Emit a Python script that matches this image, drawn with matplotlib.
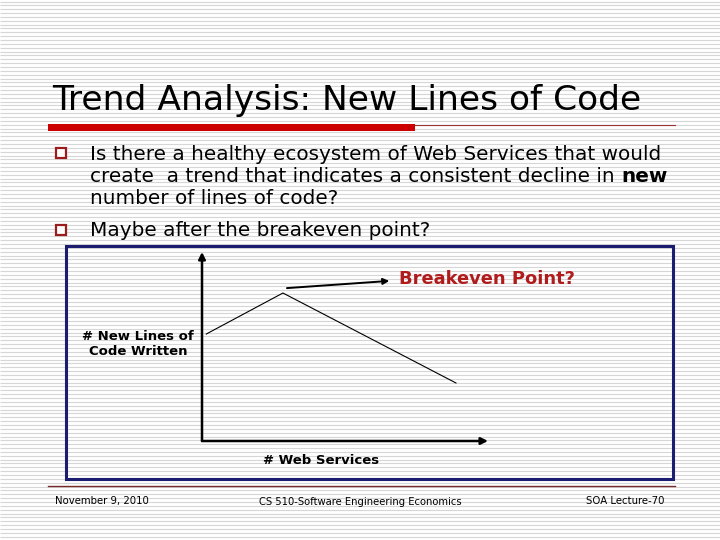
import numpy as np
import matplotlib
matplotlib.use("Agg")
import matplotlib.pyplot as plt
from matplotlib.patches import Rectangle

# trend sketch: new lines of code vs number of web services (arbitrary units)
web_services = [1.5, 28.3, 88.8]
new_loc = [56.6, 78.3, 30.7]

title = "Trend Analysis: New Lines of Code"
bullets = [
    ["Is there a healthy ecosystem of Web Services that would",
     "create  a trend that indicates a consistent decline in ",
     "number of lines of code?"],
    ["Maybe after the breakeven point?"],
]
footer = ["November 9, 2010", "CS 510-Software Engineering Economics", "SOA Lecture-70"]

W, H = 720, 540
fig = plt.figure(figsize=(7.2, 5.4), dpi=100)
fig.patch.set_facecolor("white")

# slide background in pixel coordinates
bg = fig.add_axes([0, 0, 1, 1])
bg.set_xlim(0, W)
bg.set_ylim(H, 0)
bg.axis("off")
bg.hlines(np.arange(1.5, H, 3.85), 0, W, color="#d6d6d6", lw=0.8, zorder=0)

bg.text(52, 110, title, fontsize=24.8, family="DejaVu Sans", va="baseline", ha="left")
bg.add_patch(Rectangle((48, 124), 367, 7, color="#cc0000", lw=0, zorder=3))
bg.plot([415, 675], [124.5, 124.5], color="#993333", lw=0.8, zorder=3)

# bullets
ys = [154, 231]
for y0, lines in zip(ys, bullets):
    bg.add_patch(Rectangle((56, y0 - 6), 10, 10, facecolor="white", ec="#9b1c1c",
                           lw=1.6, zorder=3))
    for i, ln in enumerate(lines):
        t = bg.text(90, y0 + i * 22, ln, fontsize=14.4, va="center", ha="left")
        if "decline" in ln:
            bg.annotate("new", xycoords=t, xy=(1, 0.5), va="center", ha="left",
                        fontsize=14.4, fontweight="bold")

# framed chart box
bg.add_patch(Rectangle((66, 246), 607, 233, fill=False, ec="#1c1c70", lw=2.2, zorder=3))

# footer
bg.plot([48, 675], [486, 486], color="#7a2a2a", lw=1, zorder=3)
bg.text(55, 501, footer[0], fontsize=7.3, va="center", ha="left")
bg.text(360, 502, footer[1], fontsize=7.2, va="center", ha="center")
bg.text(665, 501, footer[2], fontsize=7.3, va="center", ha="right")

# inner chart
ax = fig.add_axes([202 / W, (H - 441) / H, 286 / W, 189 / H])
ax.set_xlim(0, 100)
ax.set_ylim(0, 100)
ax.patch.set_alpha(0)
for s in ax.spines.values():
    s.set_visible(False)
ax.set_xticks([])
ax.set_yticks([])
ax.plot(web_services, new_loc, color="black", lw=0.8)

arrow = dict(arrowstyle="-|>", color="black", lw=1.8, mutation_scale=10, shrinkA=0, shrinkB=0)
ax.annotate("", xy=(0, 1.0), xytext=(0, 0), xycoords="axes fraction", arrowprops=arrow)
ax.annotate("", xy=(1.0, 0), xytext=(0, 0), xycoords="axes fraction", arrowprops=arrow)
ax.annotate("", xy=(65.5, 84.7), xytext=(29.7, 80.9),
            arrowprops=dict(arrow, lw=1.4, mutation_scale=9))

bg.text(399, 279, "Breakeven Point?", color="#b01c1c", fontsize=12.9, fontweight="bold",
        va="center", ha="left")
bg.text(138, 344, "# New Lines of\nCode Written", fontsize=9.5, fontweight="bold",
        va="center", ha="center", linespacing=1.2)
bg.text(321, 461, "# Web Services", fontsize=9.5, fontweight="bold", va="center", ha="center")

fig.savefig("out.png", dpi=100)
